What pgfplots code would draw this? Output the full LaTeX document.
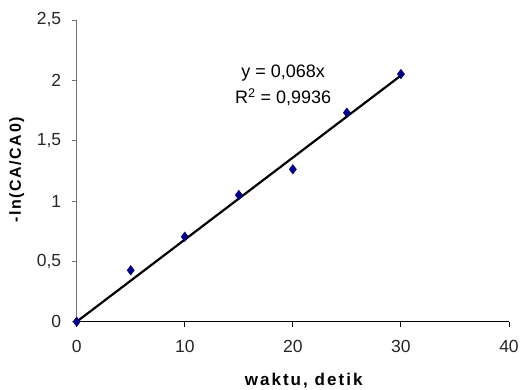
\documentclass[border=0pt]{standalone}
\usepackage{fontspec}
\setmainfont{Liberation Sans}
\usepackage{pgfplots}
\pgfplotsset{compat=1.18}
\definecolor{navymark}{RGB}{0,0,128}
\begin{document}
\begin{tikzpicture}
\begin{axis}[
  scale only axis,
  width=432.3pt, height=301.7pt,
  xmin=0, xmax=40, ymin=0, ymax=2.5,
  axis lines*=left,
  x axis line style={black, line width=1pt},
  y axis line style={black!55, line width=1.2pt},
  xtick={0,10,20,30,40},
  ytick={0,0.5,1,1.5,2,2.5},
  tick align=outside,
  major tick length=5pt,
  xtick style={black, line width=0.9pt},
  ytick style={black!55, line width=0.9pt},
  /pgf/number format/use comma,
  /pgf/number format/1000 sep={},
  /pgf/number format/assume math mode=true,
  ticklabel style={font=\fontsize{17.5}{20}\selectfont, text=black!85},
  xticklabel style={yshift=-10pt},
  yticklabel style={xshift=-7pt},
  xlabel={waktu, detik},
  ylabel={-ln(CA/CA0)},
  xlabel style={font=\fontsize{17}{20}\selectfont\bfseries\addfontfeature{LetterSpace=12},
    at={(axis description cs:0.525,0)}, anchor=base, yshift=-64pt},
  ylabel style={font=\fontsize{16}{19}\selectfont\bfseries\addfontfeature{LetterSpace=10},
    at={(axis description cs:0,0.503)}, anchor=center, yshift=60pt},
  clip=false,
]
\addplot[only marks, mark=diamond*, mark size=4.8pt, color=navymark]
  coordinates {(0,0) (5,0.426) (10,0.704) (15,1.05) (20,1.263) (25,1.732) (30,2.052)};
\addplot[black, line width=2.2pt, no marks]
  coordinates {(0,0) (30,2.04)};
\node[align=center, font=\fontsize{18}{26}\selectfont] at (axis cs:19.1,1.96)
  {y = 0,068x\\R\textsuperscript{2} = 0,9936};
\end{axis}
\pgfresetboundingbox
\path (-76.7pt,-68.3pt) rectangle (443.3pt,321.7pt);
\end{tikzpicture}
\end{document}
